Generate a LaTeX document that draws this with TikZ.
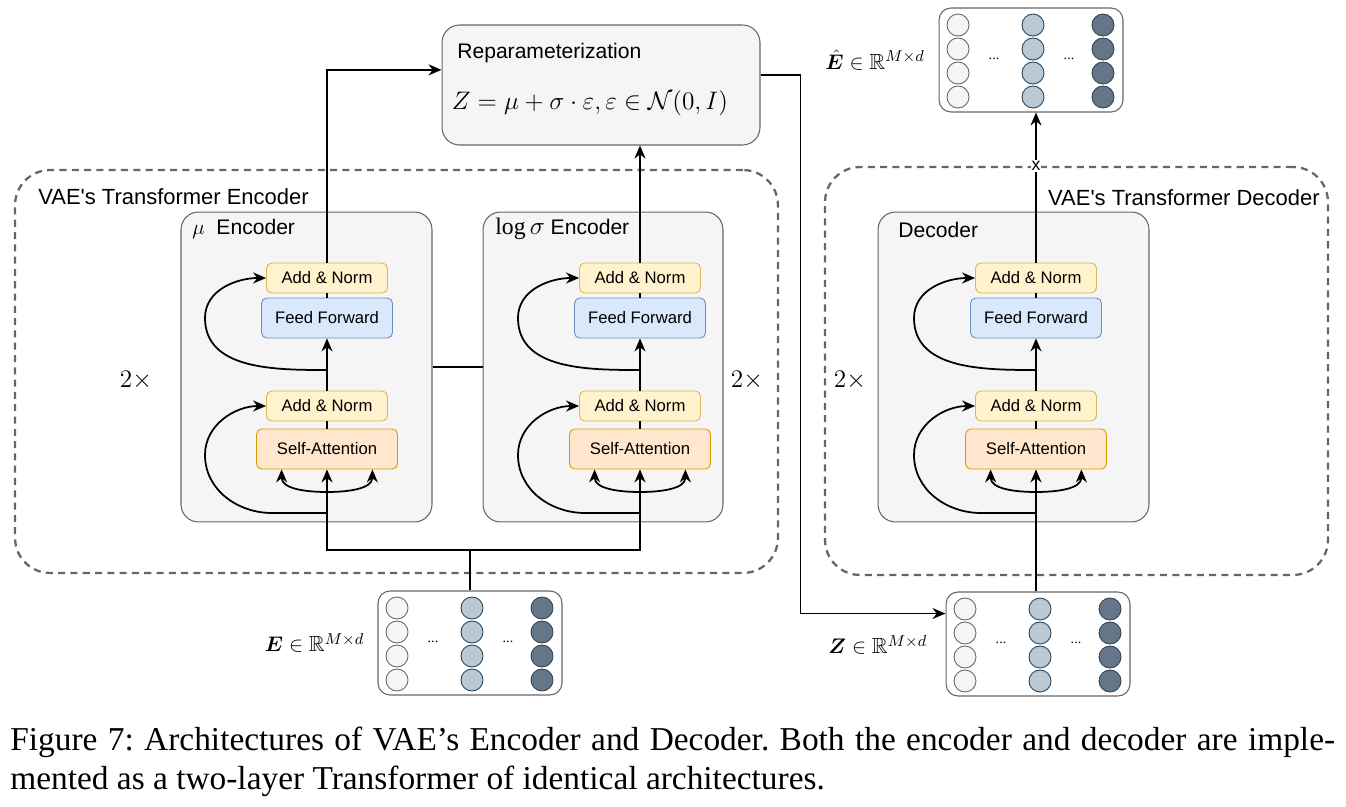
\documentclass[tikz,border=0pt]{standalone}
\usepackage{amsmath,amssymb,bm}
\usepackage{fontspec}
\setmainfont{Liberation Serif}
\newfontfamily\sketchfont{Liberation Sans}
\usetikzlibrary{positioning, arrows.meta, calc}

\definecolor{normfill}{HTML}{FFF2CC}
\definecolor{normdraw}{HTML}{D6B656}
\definecolor{fffill}{HTML}{DAE8FC}
\definecolor{ffdraw}{HTML}{6C8EBF}
\definecolor{safill}{HTML}{FFE6CC}
\definecolor{sadraw}{HTML}{D79B00}
\definecolor{blockfill}{HTML}{F5F5F5}
\definecolor{blockdraw}{HTML}{666666}
\definecolor{cellmid}{HTML}{BAC8D3}
\definecolor{cellmiddraw}{HTML}{23445D}
\definecolor{celldark}{HTML}{647687}
\definecolor{celldarkdraw}{HTML}{314354}

\begin{document}
\begin{tikzpicture}[
    x=0.02cm, y=-0.02cm,
    font=\sketchfont,
    layer/.style={
        rectangle,
        rounded corners=3pt,
        line width=0.5pt,
        inner sep=0pt,
        font=\sketchfont\fontsize{9.5}{11}\selectfont
    },
    addnorm/.style={layer, draw=normdraw, fill=normfill, minimum width=2.42cm, minimum height=0.6cm},
    feedfwd/.style={layer, draw=ffdraw, fill=fffill, minimum width=2.62cm, minimum height=0.8cm},
    selfatt/.style={layer, draw=sadraw, fill=safill, minimum width=2.82cm, minimum height=0.8cm},
    block/.style={
        rectangle,
        rounded corners=0.35cm,
        draw=blockdraw,
        fill=blockfill,
        line width=0.6pt,
        minimum height=6.2cm
    },
    group/.style={
        rectangle,
        rounded corners=0.7cm,
        draw=blockdraw,
        line width=1.3pt,
        dash pattern=on 4pt off 3pt
    },
    grptitle/.style={font=\sketchfont\fontsize{12.5}{14}\selectfont, inner sep=0pt},
    blktitle/.style={font=\sketchfont\fontsize{12}{14}\selectfont, inner sep=0pt},
    times/.style={font=\fontsize{14}{16}\selectfont, inner sep=0pt},
    mat/.style={
        rectangle,
        rounded corners=0.24cm,
        draw=blockdraw,
        fill=white,
        line width=0.6pt,
        minimum width=3.68cm,
        minimum height=2.08cm
    },
    cell/.style={circle, minimum size=0.44cm, inner sep=0pt, line width=0.5pt},
    celllight/.style={cell, draw=blockdraw, fill=blockfill},
    cellmid/.style={cell, draw=cellmiddraw, fill=cellmid},
    celldark/.style={cell, draw=celldarkdraw, fill=celldark},
    matlabel/.style={font=\fontsize{12.5}{14}\selectfont, inner sep=0pt},
    arrow/.style={
        -{Stealth[length=2.6mm, width=2.2mm]},
        line width=1pt
    },
    link/.style={line width=1pt}
]
\useasboundingbox (0,0) rectangle (1346,807);

% dashed groups
\node[group, minimum width=15.26cm, minimum height=8.06cm] (encgrp) at (396.5,371.5) {};
\node[group, minimum width=10.06cm, minimum height=8.16cm] (decgrp) at (1076.5,371) {};
\node[grptitle, anchor=west] (enctitle) at (38,197) {VAE's Transformer Encoder};
\node[grptitle, anchor=east] (dectitle) at (1320,198) {VAE's Transformer Decoder};

% encoder / decoder blocks
\node[block, minimum width=5.02cm] (mu) at (306.5,367) {};
\node[block, minimum width=4.8cm] (sig) at (603,367) {};
\node[block, minimum width=5.42cm] (dec) at (1013.5,367) {};
\node[blktitle, anchor=west] (mutitle) at (192,229) {$\mu$\ \ Encoder};
\node[blktitle, anchor=west] (sigtitle) at (495,229) {{\fontsize{13.5}{14}\selectfont$\log\sigma$} Encoder};
\node[blktitle, anchor=west] (dectitle) at (898,230) {Decoder};

\node[times] (rep1) at (136,380) {$2\times$};
\node[times] (rep2) at (747,380) {$2\times$};
\node[times] (rep3) at (850,380) {$2\times$};

% reparameterization
\node[block, minimum width=6.36cm, minimum height=2.4cm] (rep) at (601,85) {};
\node[font=\sketchfont\fontsize{12}{14}\selectfont, anchor=west, inner sep=0pt] (reptitle) at (457,53) {Reparameterization};
\node[font=\fontsize{14}{16}\selectfont, inner sep=0pt] (repeq) at (590,103) {$Z=\mu+\sigma\cdot\varepsilon,\varepsilon\in\mathcal{N}(0,I)$};

% transformer layers
\foreach \nm/\cx in {mu/327, sig/640, dec/1036} {
    \node[addnorm] (\nm-an2) at (\cx,278) {Add \& Norm};
    \node[feedfwd] (\nm-ff) at (\cx,318) {Feed Forward};
    \node[addnorm] (\nm-an1) at (\cx,406) {Add \& Norm};
    \node[selfatt] (\nm-sa) at (\cx,449) {Self-Attention};
    \coordinate (\nm-r1) at (\cx,513);
    \coordinate (\nm-r2) at (\cx,370);
    \coordinate (\nm-sp) at (\cx,492);
    \draw[link] (\nm-sa) -- (\nm-an1);
    \draw[arrow] (\nm-an1) -- (\nm-ff);
    \draw[link] (\nm-ff) -- (\nm-an2);
    \draw[arrow] (\nm-r1) -- ++(-55,0) to[out=180,in=-90] (\cx-122,455) to[out=90,in=180] (\nm-an1.west);
    \draw[arrow] (\nm-r2) to[out=180,in=-90] (\cx-122,318) to[out=90,in=180] (\nm-an2.west);
    \draw[arrow] (\nm-sp) to[out=180,in=-90] ($(\nm-sa.south west)!0.18!(\nm-sa.south east)$);
    \draw[arrow] (\nm-sp) to[out=0,in=-90] ($(\nm-sa.south west)!0.82!(\nm-sa.south east)$);
}

% embedding matrices
\foreach \m/\cx/\cy in {Ehat/1031/60, E/470/643, Z/1038/644} {
    \node[mat] (\m) at (\cx,\cy) {};
    \foreach \r [count=\i] in {-35,-11,13,37} {
        \node[celllight] (\m-a\i) at ($(\m)+(-73,\r)$) {};
        \node[cellmid] (\m-b\i) at ($(\m)+(2,\r)$) {};
        \node[celldark] (\m-c\i) at ($(\m)+(72,\r)$) {};
    }
    \node[font=\fontsize{8}{9}\selectfont, inner sep=0pt] (\m-d1) at ($(\m)+(-37,-1)$) {...};
    \node[font=\fontsize{8}{9}\selectfont, inner sep=0pt] (\m-d2) at ($(\m)+(38,-1)$) {...};
}
\node[matlabel, left=0.27cm of Ehat] (Ehatlab) {$\hat{\bm{E}}\in\mathbb{R}^{M\times d}$};
\node[matlabel, left=0.26cm of E] (Elab) {$\bm{E}\in\mathbb{R}^{M\times d}$};
\node[matlabel, left=0.36cm of Z, yshift=-0.02cm] (Zlab) {$\bm{Z}\in\mathbb{R}^{M\times d}$};

% connectors
\coordinate (ebus) at (470,550);
\draw[link] (E.north) -- (ebus);
\draw[arrow] (ebus) -| (mu-sa.south);
\draw[arrow] (ebus) -| (sig-sa.south);
\draw[link] (mu.east) -- (sig.west);
\draw[arrow] (mu-an2.north) |- ($(rep.north west)!0.375!(rep.south west)$);
\draw[arrow] (sig-an2.north) -- (sig-an2.north |- rep.south);
\draw[arrow] ($(rep.north east)!0.42!(rep.south east)$) -- ++(40,0) |- ($(Z.north west)!0.21!(Z.south west)$);
\draw[arrow] (dec-sa.south |- Z.north) -- (dec-sa.south);
\draw[arrow] (dec-an2.north) -- (dec-an2.north |- Ehat.south);
\node[font=\sketchfont\fontsize{10}{11}\selectfont, fill=white, inner sep=0.6pt] (cross) at (dec-an2.north |- decgrp.north) {x};

% caption
\node[anchor=north west, text width=26.5cm, align=justify, inner sep=0pt,
      font=\fontsize{19}{21.8}\selectfont\frenchspacing] (caption) at (10,727)
    {Figure 7: Architectures of VAE’s Encoder and Decoder. Both the encoder and decoder are imple-\linebreak
     mented as a two-layer Transformer of identical architectures.};

\end{tikzpicture}
\end{document}
